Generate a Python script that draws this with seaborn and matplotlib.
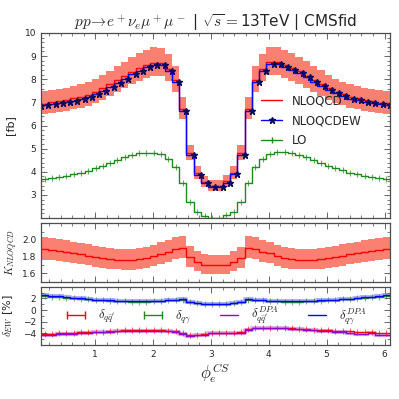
import numpy as np
import pandas as pd
import matplotlib
matplotlib.use('Agg')
import matplotlib.pyplot as plt
import seaborn as sns
from matplotlib.ticker import MultipleLocator
from matplotlib.lines import Line2D

# cross sections per bin [fb]
nloqcd = [6.92, 6.95, 7.00, 7.05, 7.10, 7.17, 7.24, 7.34, 7.46, 7.61, 7.78, 7.96, 8.14, 8.32, 8.48, 8.62, 8.72,
          8.71, 8.46, 7.96, 6.71, 4.80, 3.94, 3.57, 3.38, 3.38, 3.58, 3.96, 4.80, 6.72, 7.97, 8.46, 8.73, 8.74,
          8.63, 8.48, 8.34, 8.16, 7.97, 7.80, 7.61, 7.47, 7.35, 7.24, 7.17, 7.11, 7.04, 6.99, 6.96]
nloqcdew = [6.84, 6.87, 6.91, 6.96, 7.01, 7.07, 7.14, 7.24, 7.36, 7.50, 7.67, 7.85, 8.03, 8.21, 8.37, 8.51, 8.61,
            8.60, 8.35, 7.86, 6.62, 4.73, 3.88, 3.51, 3.32, 3.32, 3.52, 3.90, 4.73, 6.64, 7.88, 8.37, 8.64, 8.65,
            8.54, 8.40, 8.26, 8.08, 7.89, 7.72, 7.53, 7.39, 7.27, 7.16, 7.09, 7.03, 6.96, 6.91, 6.88]
lo = [3.64, 3.68, 3.72, 3.77, 3.82, 3.89, 3.96, 4.05, 4.15, 4.27, 4.40, 4.52, 4.63, 4.73, 4.80, 4.83, 4.83,
      4.75, 4.55, 4.20, 3.52, 2.68, 2.27, 2.10, 1.99, 1.99, 2.11, 2.28, 2.69, 3.52, 4.20, 4.55, 4.75, 4.84,
      4.84, 4.80, 4.73, 4.63, 4.52, 4.40, 4.27, 4.16, 4.06, 3.96, 3.89, 3.82, 3.77, 3.72, 3.68]
# scale variation of NLOQCD [%]
scale_up = 7.5
scale_dn = 6.5

# EW corrections [%]
d_qq = [-4.05, -4.05, -4.05, -4.0, -4.0, -3.95, -3.85, -3.8, -3.75, -3.7, -3.6, -3.55, -3.5, -3.45, -3.45,
        -3.45, -3.45, -3.5, -3.55, -3.6, -4.0, -4.25, -4.25, -4.1, -3.95, -3.9, -3.9, -3.9, -3.85, -3.3, -3.1,
        -3.05, -3.0, -3.0, -3.05, -3.1, -3.2, -3.3, -3.35, -3.4, -3.5, -3.55, -3.6, -3.65, -3.75, -3.8, -3.85,
        -3.9, -3.95]
d_qq_dpa = [-4.3, -4.25, -4.2, -4.15, -4.1, -4.05, -3.95, -3.9, -3.85, -3.8, -3.7, -3.65, -3.6, -3.55, -3.55,
            -3.55, -3.55, -3.6, -3.65, -3.75, -4.15, -4.4, -4.35, -4.2, -4.0, -3.95, -3.95, -3.95, -3.9, -3.35,
            -3.15, -3.1, -3.05, -3.05, -3.1, -3.2, -3.3, -3.4, -3.45, -3.55, -3.65, -3.75, -3.8, -3.9, -4.1,
            -4.15, -3.95, -4.2, -4.25]
d_qg = [2.5, 2.4, 2.3, 2.2, 2.1, 2.0, 1.9, 1.85, 1.75, 1.7, 1.6, 1.55, 1.5, 1.45, 1.45, 1.45, 1.5, 1.55, 1.65,
        1.75, 1.8, 1.3, 1.15, 1.05, 1.0, 1.0, 1.05, 1.15, 1.3, 1.8, 1.75, 1.65, 1.55, 1.5, 1.45, 1.45, 1.45, 1.5,
        1.55, 1.6, 1.7, 1.75, 1.85, 1.9, 2.0, 2.1, 2.2, 2.3, 2.4]
d_qg_dpa = [2.65, 2.55, 2.45, 2.35, 2.2, 2.1, 2.0, 1.9, 1.8, 1.75, 1.65, 1.6, 1.55, 1.5, 1.5, 1.5, 1.55, 1.6,
            1.7, 1.8, 1.85, 1.35, 1.15, 1.05, 1.0, 1.0, 1.05, 1.15, 1.35, 1.85, 1.8, 1.7, 1.6, 1.55, 1.5, 1.5,
            1.5, 1.55, 1.6, 1.65, 1.75, 1.8, 1.9, 1.95, 2.1, 2.2, 2.3, 2.45, 2.6]

edges = np.linspace(0, 2 * np.pi, 51)
width = edges[1] - edges[0]
phi = (0.5 * (edges[1:] + edges[:-1]))[:len(nloqcd)]

df = pd.DataFrame({'phi': phi, 'nlo': nloqcd, 'ew': nloqcdew, 'lo': lo,
                   'dqq': d_qq, 'dqq_dpa': d_qq_dpa, 'dqg': d_qg, 'dqg_dpa': d_qg_dpa})
df['nlo_up'] = df['nlo'] * (1 + scale_up / 100)
df['nlo_dn'] = df['nlo'] * (1 - scale_dn / 100)
df['k'] = df['nlo'] / df['lo']
df['k_up'] = df['nlo_up'] / df['lo']
df['k_dn'] = df['nlo_dn'] / df['lo']

sns.set_style('ticks')
plt.rcParams['font.family'] = ['DejaVu Sans']
plt.rcParams['mathtext.fontset'] = 'cm'

fig = plt.figure(figsize=(3.99, 3.99), dpi=100)
ax1 = fig.add_axes([0.1028, 0.4536, 0.8746, 0.4637])
ax2 = fig.add_axes([0.1028, 0.294, 0.8746, 0.1464])
ax3 = fig.add_axes([0.1028, 0.1353, 0.8746, 0.1462])

band = 'salmon'
green = '#1f8a1f'
star = '#0a0a60'

# main panel
ax1.fill_between(df['phi'], df['nlo_dn'], df['nlo_up'], step='pre', color=band, lw=0)
sns.lineplot(data=df, x='phi', y='lo', ax=ax1, color=green, drawstyle='steps-pre', lw=1)
ax1.plot(df['phi'] - width / 2, df['lo'], ls='none', marker='|', ms=4, mew=0.8, color=green, alpha=0.7)
sns.lineplot(data=df, x='phi', y='nlo', ax=ax1, color='red', drawstyle='steps-pre', lw=1)
sns.lineplot(data=df, x='phi', y='ew', ax=ax1, color='blue', drawstyle='steps-pre', lw=1)
ax1.plot(df['phi'], df['ew'], ls='none', marker='*', ms=4.5, color=star)
ax1.set_ylim(2, 10)
ax1.set_yticks(range(3, 11))
ax1.set_ylabel('[fb]', fontsize=8)
ax1.set_title(r'$pp\!\rightarrow\! e^+\nu_e\mu^+\mu^-$ | $\sqrt{s}=$13TeV | CMSfid', fontsize=11, pad=3)
handles = [Line2D([], [], color='red', lw=1),
           Line2D([], [], color='blue', lw=1, marker='*', ms=4.5, mfc=star, mec=star),
           Line2D([], [], color=green, lw=1, marker='|', ms=5)]
ax1.legend(handles, ['NLOQCD', 'NLOQCDEW', 'LO'], loc='center left', bbox_to_anchor=(0.6, 0.525),
           frameon=False, fontsize=8.5, handlelength=1.8, labelspacing=0.6, numpoints=1)

# K-factor panel
ax2.fill_between(df['phi'], df['k_dn'], df['k_up'], step='pre', color=band, lw=0)
sns.lineplot(data=df, x='phi', y='k', ax=ax2, color='red', drawstyle='steps-pre', lw=1)
ax2.set_ylim(1.5, 2.2)
ax2.set_yticks([1.6, 1.8, 2.0])
ax2.yaxis.set_minor_locator(MultipleLocator(0.1))
ax2.set_ylabel(r'$K_{NLOQCD}$', fontsize=8)

# EW corrections panel
sns.lineplot(data=df, x='phi', y='dqq_dpa', ax=ax3, color='darkviolet', drawstyle='steps-pre', lw=3, alpha=0.3)
sns.lineplot(data=df, x='phi', y='dqg_dpa', ax=ax3, color='blue', drawstyle='steps-pre', lw=3, alpha=0.3)
sns.lineplot(data=df, x='phi', y='dqq', ax=ax3, color='red', drawstyle='steps-pre', lw=1)
ax3.plot(df['phi'] - width / 2, df['dqq'], ls='none', marker='|', ms=4, mew=0.8, color='red', alpha=0.6)
sns.lineplot(data=df, x='phi', y='dqg', ax=ax3, color=green, drawstyle='steps-pre', lw=1)
ax3.plot(df['phi'] - width / 2, df['dqg'], ls='none', marker='|', ms=4, mew=0.8, color=green, alpha=0.6)
sns.lineplot(data=df, x='phi', y='dqq_dpa', ax=ax3, color='darkviolet', drawstyle='steps-pre', lw=1)
sns.lineplot(data=df, x='phi', y='dqg_dpa', ax=ax3, color='blue', drawstyle='steps-pre', lw=1)
ax3.set_ylim(-6, 4)
ax3.set_yticks([-4, -2, 0, 2])
ax3.yaxis.set_minor_locator(MultipleLocator(1))
ax3.set_ylabel(r'$\delta_{EW}$ [%]', fontsize=8)
ax3.set_xlabel(r'$\phi_e^{CS}$', fontsize=12, labelpad=2)
dh = [Line2D([], [], color='red', lw=1, marker='|', ms=6),
      Line2D([], [], color=green, lw=1, marker='|', ms=6),
      Line2D([], [], color='darkviolet', lw=1),
      Line2D([], [], color='blue', lw=1)]
ax3.legend(dh, [r'$\delta_{q\bar{q}^\prime}$', r'$\delta_{q\gamma}$',
                r'$\delta_{q\bar{q}^\prime}^{DPA}$', r'$\delta_{q\gamma}^{DPA}$'],
           loc='center', bbox_to_anchor=(0.05, 0.25, 0.9, 0.5), mode='expand', ncol=4,
           frameon=False, fontsize=9, handlelength=2.0, numpoints=2, borderaxespad=0)

for ax in (ax1, ax2, ax3):
    ax.set_xlim(df['phi'].iloc[0], df['phi'].iloc[-1])
    ax.xaxis.set_major_locator(MultipleLocator(1))
    ax.xaxis.set_minor_locator(MultipleLocator(0.2))
    if ax is ax1:
        ax.yaxis.set_minor_locator(MultipleLocator(0.2))
    ax.tick_params(which='both', direction='in', top=True, right=True, labelsize=6.5, colors='0.15')
    ax.tick_params(which='major', length=4, width=0.7, color='0.4')
    ax.tick_params(which='minor', length=2, width=0.6, color='0.4')
    for s in ax.spines.values():
        s.set_color('0.3')
        s.set_linewidth(0.9)
    ax.yaxis.set_label_coords(-0.075, 0.5)
    if ax is not ax3:
        ax.set_xlabel('')
        ax.tick_params(labelbottom=False)
ax2.yaxis.set_label_coords(-0.06, 0.5)

fig.savefig('out.png', dpi=100)
